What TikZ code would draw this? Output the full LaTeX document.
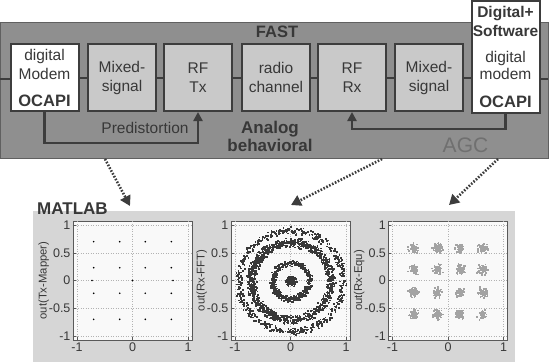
\documentclass[tikz,border=0pt]{standalone}
\usepackage{fontspec}
\setmainfont{Liberation Sans}
\usepackage{xcolor}
\usepackage{tikz}
\usetikzlibrary{positioning, arrows.meta, calc}

\definecolor{panelgray}{gray}{0.56}
\definecolor{boxgray}{gray}{0.79}
\definecolor{linegray}{gray}{0.24}
\definecolor{textgray}{gray}{0.22}
\definecolor{matgray}{gray}{0.84}
\definecolor{plotbg}{gray}{0.975}
\definecolor{gridgray}{gray}{0.7}
\definecolor{ringdark}{gray}{0.22}
\definecolor{cloudgray}{gray}{0.64}

\begin{document}
\begin{tikzpicture}[
        x=1pt, y=-1pt,
        font=\fontsize{15.5}{19}\selectfont,
        % Styles for the blocks
        block/.style={
            rectangle, draw=linegray, line width=2pt, fill=boxgray,
            minimum width=68pt, minimum height=67pt, inner sep=0pt,
            align=center, text=textgray
        },
        modem/.style={block, fill=white},
        wire/.style={draw=linegray, line width=2pt},
        feedback/.style={draw=linegray, line width=2.5pt, -{Triangle[length=9pt,width=9pt]}},
        link/.style={draw=linegray, line width=2.6pt, dash pattern=on 1.6pt off 1.6pt,
            -{Triangle[length=10pt,width=11pt]}},
        title/.style={font=\fontsize{16.5}{18.5}\selectfont\bfseries, text=textgray, align=center},
        plotbox/.style={rectangle, draw=gray!70!black, line width=0.7pt, fill=plotbg,
            minimum size=119pt, inner sep=0pt},
        ticklab/.style={font=\fontsize{12.5}{12.5}\selectfont, text=textgray, inner sep=1pt},
        axlab/.style={font=\fontsize{11.3}{12}\selectfont, text=textgray, rotate=90}
    ]
    \useasboundingbox (0,0) rectangle (550,362);

    % 1. FAST PANEL
    \node[rectangle, draw=gray!75!black, line width=0.8pt, fill=panelgray,
          minimum width=548pt, minimum height=136pt, anchor=north west] (fast) at (0,22) {};
    \node[title] (fastlab) at (277,32) {FAST};

    % 2. BLOCKS OF THE CHAIN
    \node[modem] (tx) at (44.5,77.5) {digital\\Modem\\[8pt]\textbf{\fontsize{16.5}{19}\selectfont OCAPI}};
    \node[block] (mixtx) at (122,77.5) {Mixed-\\signal};
    \node[block] (rftx) at (198,77.5) {RF\\Tx};
    \node[block] (chan) at (276,77.5) {radio\\channel};
    \node[block] (rfrx) at (352,77.5) {RF\\Rx};
    \node[block] (mixrx) at (429,77.5) {Mixed-\\signal};
    \node[modem, minimum height=112pt] (rx) at (505.5,57)
        {\textbf{Digital+}\\\textbf{Software}\\[7pt]digital\\[-2pt]modem\\[9pt]\textbf{\fontsize{16.5}{19}\selectfont OCAPI}};

    % Connect the blocks in a row
    \coordinate (inL) at (0,79);
    \coordinate (outR) at (548,79);
    \draw[wire] (inL) -- (inL -| tx.west);
    \draw[wire] (tx) -- (mixtx);
    \draw[wire] (mixtx) -- (rftx);
    \draw[wire] (rftx) -- (chan);
    \draw[wire] (chan) -- (rfrx);
    \draw[wire] (rfrx) -- (mixrx);
    \draw[wire] (mixrx.east) -- (mixrx.east -| rx.west);
    \draw[wire] (outR -| rx.east) -- (outR);

    % 3. FEEDBACK LOOPS
    \draw[feedback] (tx.south) -- ++(0,31) -| (rftx.south);
    \node[text=textgray] (predist) at (145,128) {Predistortion};
    \draw[feedback] (rx.south) -- ++(0,15) -| (rfrx.south);
    \node[text=black!56, font=\fontsize{21}{24}\selectfont] (agc) at (465.5,145) {AGC};
    \node[title, font=\fontsize{17}{18}\selectfont\bfseries] (analog) at (270,136) {Analog\\behavioral};

    % 4. MATLAB PANEL
    \node[rectangle, fill=matgray, minimum width=482pt, minimum height=151pt,
          anchor=north west, inner sep=0pt] (matlab) at (33,211) {};
    \node[title, font=\fontsize{17}{18}\selectfont\bfseries, anchor=west, inner sep=0pt] (matlablab) at (37,209) {MATLAB};

    % Plots with grid, ticks and labels
    \foreach \cx/\lab [count=\i] in {132.5/{out(Tx-Mapper)}, 290.5/{out(Rx-FFT)}, 448/{out(Rx-Equ)}} {
        \node[plotbox] (p\i) at (\cx,280.5) {};
        \foreach \v in {-1,-0.5,0,0.5,1} {
            \draw[gridgray, dotted, line width=0.5pt] ($(p\i.west)+(0.5,-55.5*\v)$) -- ($(p\i.east)+(-0.5,-55.5*\v)$);
            \draw[gray!70!black, line width=0.5pt] ($(p\i.west)+(0,-55.5*\v)$) -- ++(3,0);
            \node[ticklab, anchor=east] at ($(p\i.west)+(-1,-55.5*\v)$) {\v};
        }
        \foreach \v in {-1,0,1} {
            \draw[gridgray, dotted, line width=0.5pt] ($(p\i.north)+(55.5*\v,0.5)$) -- ($(p\i.south)+(55.5*\v,-0.5)$);
            \draw[gray!70!black, line width=0.5pt] ($(p\i.south)+(55.5*\v,0)$) -- ++(0,-3);
            \node[ticklab, anchor=north] at ($(p\i.south)+(55.5*\v,1.5)$) {\v};
        }
        \node[axlab] (yl\i) at ($(p\i.west)+(-29,0)$) {\lab};
    }

    % Constellation of the mapper
    \foreach \qx/\qy in {-0.7/0.7, -0.23/0.7, 0.23/0.7, 0.7/0.7,
                         -0.7/0.23, -0.23/0.23, 0.23/0.23, 0.7/0.23,
                         -0.73/0, 0/0, 0.73/0,
                         -0.7/-0.23, -0.23/-0.23, 0.23/-0.23, 0.7/-0.23,
                         -0.7/-0.7, -0.23/-0.7, 0.23/-0.7, 0.7/-0.7}
        \fill[black] ($(p1.center)+(55.5*\qx,-55.5*\qy)$) circle (0.9);

    % Rings after the FFT
    \pgfmathsetseed{7}
    \foreach \R/\w/\n in {0.0/0.12/220, 0.33/0.07/480, 0.72/0.1/1100, 0.94/0.08/560} {
        \foreach \k in {1,...,\n} {
            \pgfmathsetmacro{\a}{360*rnd}
            \pgfmathsetmacro{\r}{\R+\w*(rnd+rnd-1)}
            \fill[ringdark] ($(p2.center)+({55.5*\r*cos(\a)},{-55.5*0.97*\r*sin(\a)})$) rectangle ++(1.7,1.7);
        }
    }

    % Clouds after the equalizer
    \foreach \qx in {-0.63,-0.2,0.2,0.61} {
        \foreach \qy in {0.6,0.21,-0.2,-0.6} {
            \foreach \k in {1,...,90} {
                \pgfmathsetmacro{\a}{360*rnd}
                \pgfmathsetmacro{\r}{0.12*(rnd+rnd-1)}
                \fill[cloudgray] ($(p3.center)+({55.5*(\qx+\r*cos(\a))},{-55.5*(\qy+\r*sin(\a))})$) rectangle ++(1.7,1.7);
            }
        }
    }

    % 5. LINKS FROM FAST TO MATLAB
    \coordinate (s1) at (105,159);
    \coordinate (s2) at (382,159);
    \coordinate (s3) at (498,159);
    \coordinate (e1) at (130,206);
    \coordinate (e2) at (291,205);
    \coordinate (e3) at (449,205);
    \draw[link] (s1) -- (e1);
    \draw[link] (s2) -- (e2);
    \draw[link] (s3) -- (e3);

\end{tikzpicture}
\end{document}
